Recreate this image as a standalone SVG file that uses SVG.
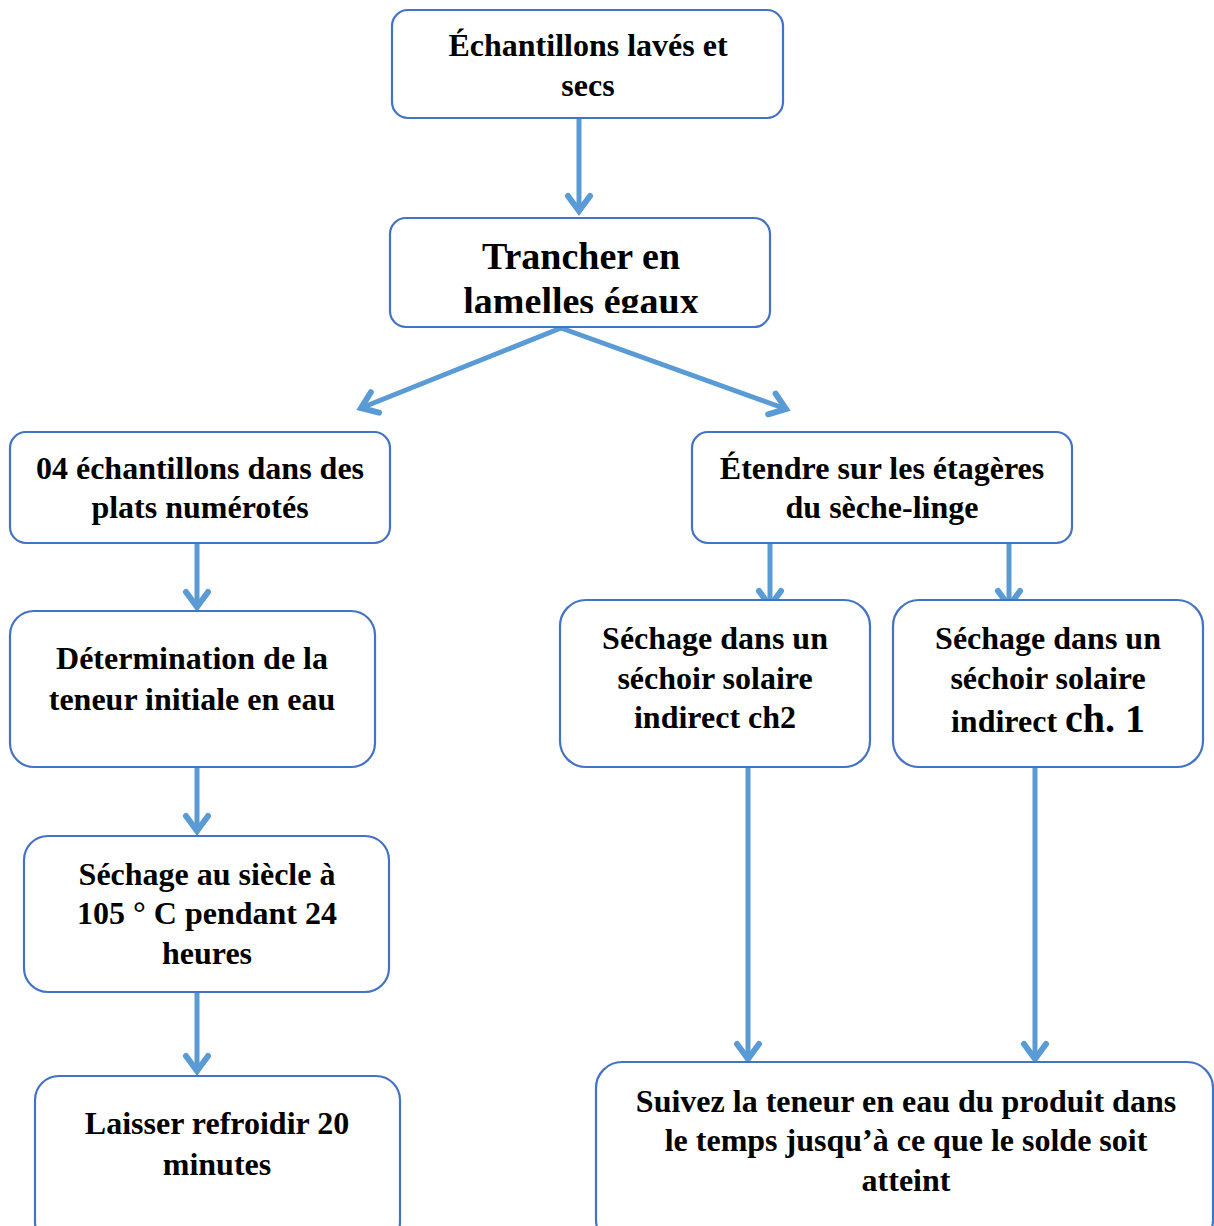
<svg xmlns="http://www.w3.org/2000/svg" width="1214" height="1226" viewBox="0 0 1214 1226">
<style>
.box{fill:#fff;stroke:#4472C4;stroke-width:2.2}
.t{font-family:"Liberation Serif","Times New Roman",serif;font-weight:bold;font-size:32px;fill:#000;text-anchor:middle}
.big{font-size:38px}
.con{stroke:#5B9BD5;stroke-width:5;fill:none;marker-end:url(#chev)}
</style>
<defs>
<marker id="chev" markerUnits="userSpaceOnUse" orient="auto" markerWidth="40" markerHeight="40" refX="20" refY="20" viewBox="0 0 40 40" overflow="visible">
<path d="M5 9 L20 20 L5 31" fill="none" stroke="#5B9BD5" stroke-width="6" stroke-linecap="round" stroke-linejoin="miter"/>
</marker>
<clipPath id="clipT"><rect x="390" y="218" width="380" height="95"/></clipPath>
</defs>
<g id="connectors">
<line class="con" x1="579" y1="118" x2="579" y2="211"/>
<line class="con" x1="561" y1="328" x2="361" y2="408"/>
<line class="con" x1="561" y1="328" x2="786" y2="409"/>
<line class="con" x1="197" y1="543" x2="197" y2="607"/>
<line class="con" x1="770" y1="543" x2="770" y2="606"/>
<line class="con" x1="1009" y1="543" x2="1009" y2="606"/>
<line class="con" x1="197" y1="767" x2="197" y2="831"/>
<line class="con" x1="197" y1="992" x2="197" y2="1071"/>
<line class="con" x1="748" y1="767" x2="748" y2="1059"/>
<line class="con" x1="1035" y1="767" x2="1035" y2="1059"/>
</g>
<g id="n1">
<rect class="box" x="392" y="10" width="391" height="108" rx="16"/>
<text class="t" x="588" y="56">Échantillons lavés et</text>
<text class="t" x="588" y="96">secs</text>
</g>
<g id="n2">
<rect class="box" x="390" y="218" width="380" height="109" rx="16"/>
<g clip-path="url(#clipT)">
<text class="t big" x="581" y="269">Trancher en</text>
<text class="t big" x="581" y="314">lamelles égaux</text>
</g>
</g>
<g id="n3">
<rect class="box" x="10" y="432" width="380" height="111" rx="16"/>
<text class="t" x="200" y="479">04 échantillons dans des</text>
<text class="t" x="200" y="518">plats numérotés</text>
</g>
<g id="n4">
<rect class="box" x="692" y="432" width="380" height="111" rx="16"/>
<text class="t" x="882" y="479">Étendre sur les étagères</text>
<text class="t" x="882" y="518">du sèche-linge</text>
</g>
<g id="n5">
<rect class="box" x="10" y="611" width="365" height="156" rx="24"/>
<text class="t" x="192" y="669">Détermination de la</text>
<text class="t" x="192" y="710">teneur initiale en eau</text>
</g>
<g id="n6">
<rect class="box" x="560" y="600" width="310" height="167" rx="26"/>
<text class="t" x="715" y="649">Séchage dans un</text>
<text class="t" x="715" y="689">séchoir solaire</text>
<text class="t" x="715" y="728">indirect ch2</text>
</g>
<g id="n7">
<rect class="box" x="893" y="600" width="310" height="167" rx="26"/>
<text class="t" x="1048" y="649">Séchage dans un</text>
<text class="t" x="1048" y="689">séchoir solaire</text>
<text class="t" x="1048" y="732">indirect <tspan font-size="40">ch. 1</tspan></text>
</g>
<g id="n8">
<rect class="box" x="24" y="836" width="365" height="156" rx="24"/>
<text class="t" x="207" y="885">Séchage au siècle à</text>
<text class="t" x="207" y="924">105 ° C pendant 24</text>
<text class="t" x="207" y="964">heures</text>
</g>
<g id="n9">
<rect class="box" x="35" y="1076" width="365" height="170" rx="24"/>
<text class="t" x="217" y="1134">Laisser refroidir 20</text>
<text class="t" x="217" y="1175">minutes</text>
</g>
<g id="n10">
<rect class="box" x="596" y="1062" width="617" height="184" rx="26"/>
<text class="t" x="906" y="1112">Suivez la teneur en eau du produit dans</text>
<text class="t" x="906" y="1151">le temps jusqu’à ce que le solde soit</text>
<text class="t" x="906" y="1191">atteint</text>
</g>
</svg>
